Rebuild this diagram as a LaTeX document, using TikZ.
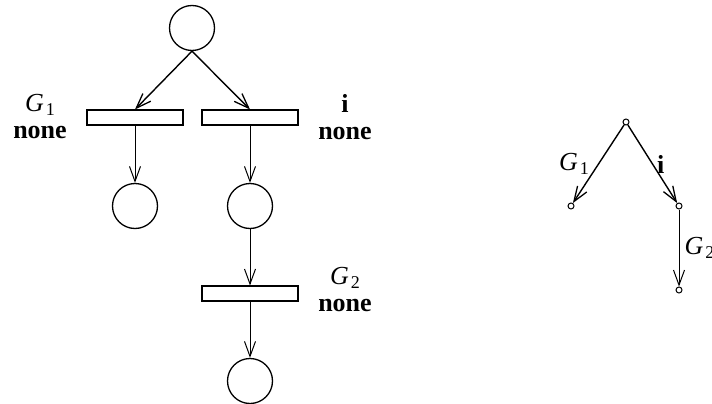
\documentclass[tikz,border=0pt]{standalone}
\usepackage{fontspec}
\setmainfont{Liberation Serif}[BoldFont={Liberation Serif Bold},ItalicFont={Liberation Serif Italic}]
\usetikzlibrary{arrows.meta}
\newcommand\Gsub[1]{\textit{G}\kern2pt\raisebox{-0.35ex}{\fontsize{18}{18}\selectfont #1}}
\tikzset{
  place/.style={circle,draw,line width=1.3pt,minimum size=45pt,inner sep=0pt},
  trans/.style={rectangle,draw,line width=1.1pt,minimum width=96pt,minimum height=15pt,inner sep=0pt},
  arc/.style={line width=1pt,-{Straight Barb[length=15pt,width=11pt,line width=1pt]}},
  arcthick/.style={line width=1.4pt,-{Straight Barb[length=15pt,width=11pt,line width=1.3pt]}},
  dot/.style={circle,draw,line width=1pt,minimum size=6pt,inner sep=0pt},
  lab/.style={font=\fontsize{26}{29}\selectfont,align=center,inner sep=0pt},
}
\begin{document}
\begin{tikzpicture}[x=1pt,y=-1pt]
\useasboundingbox (0,0) rectangle (712,404);
% Petri net
\node[place] (p0) at (192,28) {};
\node[trans] (t1) at (135,117.5) {};
\node[trans] (t2) at (250,117.5) {};
\node[place] (p1) at (135,206) {};
\node[place] (p2) at (250,206) {};
\node[trans] (t3) at (250,293.5) {};
\node[place] (p3) at (250,381) {};
\draw[arcthick] (p0.south) -- (t1.north);
\draw[arcthick] (p0.south) -- (t2.north);
\draw[arc] (t1.center) ++(0,7.5) coordinate (t1b) (t1b) -- (p1);
\draw[arc] (t2.center) ++(0,7.5) coordinate (t2b) (t2b) -- (p2);
\draw[arc] (p2) -- (t3.north);
\draw[arc] (t3.center) ++(0,7.5) coordinate (t3b) (t3b) -- (p3);
\node[lab,anchor=north] (l1) at (40,94) {\Gsub{1}\\[-2pt]\textbf{none}};
\node[lab,anchor=north] (l2) at (345,94) {\textbf{i}\\[-2pt]\textbf{none}};
\node[lab,anchor=north] (l3) at (345,267) {\Gsub{2}\\[-2pt]\textbf{none}};
% reachability graph
\node[dot] (r0) at (626,122) {};
\node[dot] (r1) at (571,206) {};
\node[dot] (r2) at (679,206) {};
\node[dot] (r3) at (679,290) {};
\draw[arcthick] (r0) -- (r1) node[lab,pos=0.5,left=9pt] (lg1) {\Gsub{1}};
\draw[arcthick] (r0) -- (r2) node[lab,pos=0.5,right=4pt] (lgi) {\textbf{i}};
\draw[arc] (r2) -- (r3) node[lab,pos=0.5,right=5pt] (lg2) {\Gsub{2}};
\end{tikzpicture}
\end{document}
